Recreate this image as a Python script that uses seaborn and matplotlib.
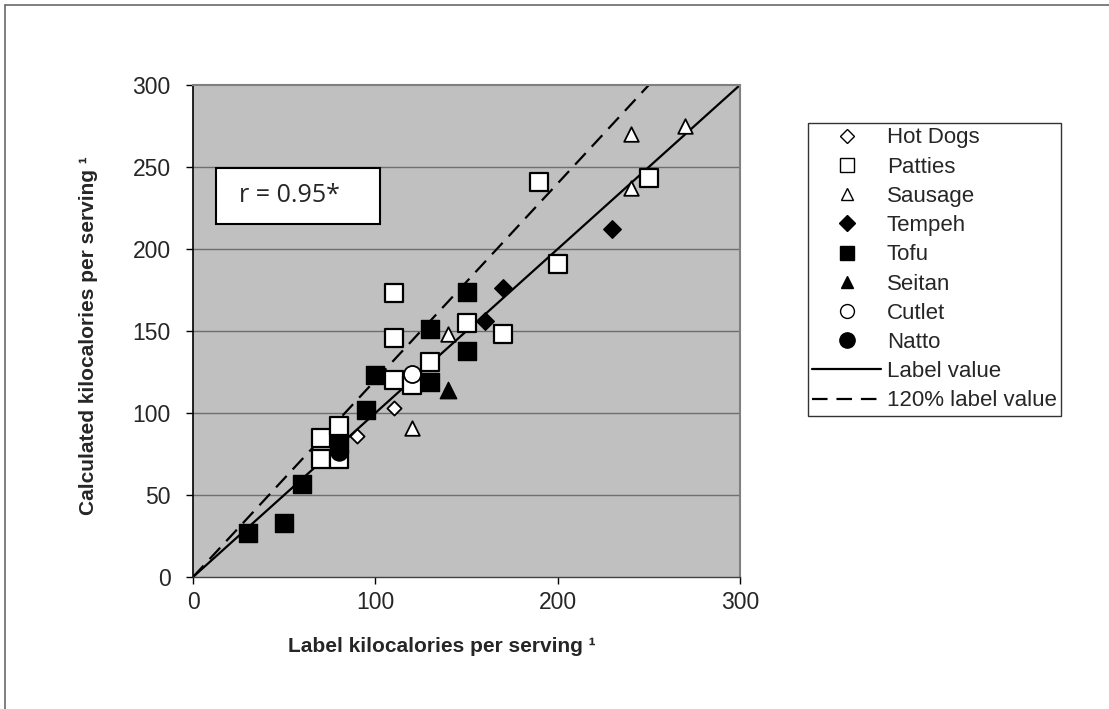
import numpy as np
import pandas as pd
import matplotlib
matplotlib.use("Agg")
import matplotlib.pyplot as plt
import seaborn as sns
from matplotlib.lines import Line2D
from matplotlib.patches import Rectangle

# ---- data (label kcal, calculated kcal) ----
hotdog_label = [90, 110]
hotdog_calc = [86, 103]
patty_label = [190, 250, 200, 110, 110, 150, 170, 130, 110, 120, 70, 80, 70, 80]
patty_calc = [241, 243, 191, 173, 146, 155, 148, 131, 120, 117, 85, 92, 72, 72]
sausage_label = [240, 270, 240, 140, 120]
sausage_calc = [270, 275, 237, 148, 91]
tempeh_label = [230, 170, 160]
tempeh_calc = [212, 176, 156]
tofu_label = [150, 150, 130, 130, 100, 95, 80, 60, 50, 30]
tofu_calc = [174, 138, 151, 119, 123, 102, 81, 57, 33, 27]
seitan_label = [140]
seitan_calc = [114]
cutlet_label = [120]
cutlet_calc = [124]
natto_label = [80]
natto_calc = [76]

line_x = [0, 300]
line_y = [0, 300]
line120_x = [0, 250]
line120_y = [0, 300]

categories = ["Hot Dogs", "Patties", "Sausage", "Tempeh", "Tofu", "Seitan", "Cutlet", "Natto"]
xs = [hotdog_label, patty_label, sausage_label, tempeh_label, tofu_label, seitan_label, cutlet_label, natto_label]
ys = [hotdog_calc, patty_calc, sausage_calc, tempeh_calc, tofu_calc, seitan_calc, cutlet_calc, natto_calc]

rows = []
for c, xv, yv in zip(categories, xs, ys):
    for a, b in zip(xv, yv):
        rows.append((c, a, b))
df = pd.DataFrame(rows, columns=["type", "label", "calc"])

# ---- styles ----
styles = {
    "Hot Dogs": dict(marker="D", fc="white", s=52, lw=1.3),
    "Patties": dict(marker="s", fc="white", s=150, lw=1.6),
    "Sausage": dict(marker="^", fc="white", s=110, lw=1.3),
    "Tempeh": dict(marker="D", fc="black", s=80, lw=1.0),
    "Tofu": dict(marker="s", fc="black", s=175, lw=1.0),
    "Seitan": dict(marker="^", fc="black", s=140, lw=1.0),
    "Cutlet": dict(marker="o", fc="white", s=150, lw=1.3),
    "Natto": dict(marker="o", fc="black", s=150, lw=1.0),
}
leg_ms = {"Hot Dogs": 7.5, "Patties": 10, "Sausage": 8, "Tempeh": 8,
          "Tofu": 10, "Seitan": 8, "Cutlet": 10, "Natto": 11}

sns.set_theme(style="white")
plt.rcParams["font.family"] = ["Liberation Sans", "DejaVu Sans"]

W, H = 1109, 709
fig = plt.figure(figsize=(W / 100, H / 100), dpi=100)
fig.patch.set_facecolor("white")
ax = fig.add_axes([193 / W, 1 - 577 / H, (740 - 193) / W, (577 - 85) / H])
ax.set_facecolor("#c0c0c0")

ax.set_xlim(0, 300)
ax.set_ylim(0, 300)
ax.set_xticks([0, 100, 200, 300])
ax.set_yticks([0, 50, 100, 150, 200, 250, 300])
for yv in [50, 100, 150, 200, 250]:
    ax.axhline(yv, color="#6e6e6e", lw=1.0, zorder=1)

# reference lines
sns.lineplot(x=line_x, y=line_y, ax=ax, color="black", lw=1.6, zorder=2)
sns.lineplot(x=line120_x, y=line120_y, ax=ax, color="black", lw=1.6,
             linestyle=(0, (7, 4)), zorder=2)

for c in categories:
    st = styles[c]
    sub = df[df["type"] == c]
    sns.scatterplot(data=sub, x="label", y="calc", ax=ax, marker=st["marker"],
                    s=st["s"], color=st["fc"], edgecolor="black",
                    linewidth=st["lw"], zorder=3, legend=False)

for side in ["top", "right"]:
    ax.spines[side].set_color("#808080")
    ax.spines[side].set_linewidth(1.5)
ax.spines["left"].set_color("black")
ax.spines["left"].set_linewidth(1.2)
ax.spines["bottom"].set_color("#404040")
ax.spines["bottom"].set_linewidth(1.0)

ax.tick_params(axis="y", direction="out", length=5, width=1, color="black",
               pad=11, labelsize=16.5, left=True)
ax.tick_params(axis="x", direction="out", length=5, width=1, color="black",
               pad=5, labelsize=16.5, bottom=True)

ax.set_xlabel("Label kilocalories per serving \u00b9", fontsize=15, fontweight="bold")
ax.set_ylabel("Calculated kilocalories per serving \u00b9", fontsize=15, fontweight="bold")
ax.xaxis.set_label_coords((442 - 193) / 547, -(637 - 577) / 492)
ax.yaxis.set_label_coords(-(193 - 98) / 547, 0.49)

# r box
ax.add_patch(Rectangle(((216 - 193) / 547, (577 - 224) / 492), 164 / 547, 56 / 492,
                       transform=ax.transAxes, facecolor="white", edgecolor="black",
                       lw=1.5, zorder=4))
ax.text((289 - 193) / 547, (577 - 196) / 492, "r = 0.95*", transform=ax.transAxes,
        ha="center", va="center", fontsize=18, family=["Open Sans", "DejaVu Sans"], zorder=5)

# legend
handles = []
for c in categories:
    st = styles[c]
    handles.append(Line2D([], [], linestyle="none", marker=st["marker"],
                          markersize=leg_ms[c], markerfacecolor=st["fc"],
                          markeredgecolor="black", markeredgewidth=1.0, label=c))
handles.append(Line2D([], [], color="black", lw=1.6, label="Label value"))
handles.append(Line2D([], [], color="black", lw=1.6, linestyle=(0, (7, 4)),
                      label="120% label value"))
leg = fig.legend(handles=handles, loc="upper left",
                 bbox_to_anchor=(808 / W, 1 - 123 / H), bbox_transform=fig.transFigure,
                 borderaxespad=0, fontsize=16, frameon=True, fancybox=False,
                 handlelength=3.1, handletextpad=0.25, labelspacing=0.37,
                 borderpad=0.2)
leg.get_frame().set_edgecolor("black")
leg.get_frame().set_linewidth(1.0)

# outer chart border (top & left)
fig.add_artist(Line2D([5 / W, 1], [1 - 5 / H, 1 - 5 / H], transform=fig.transFigure,
                      color="#6a6a6a", lw=1.2))
fig.add_artist(Line2D([5 / W, 5 / W], [0, 1 - 5 / H], transform=fig.transFigure,
                      color="#6a6a6a", lw=1.2))

fig.savefig("out.png", dpi=100)
